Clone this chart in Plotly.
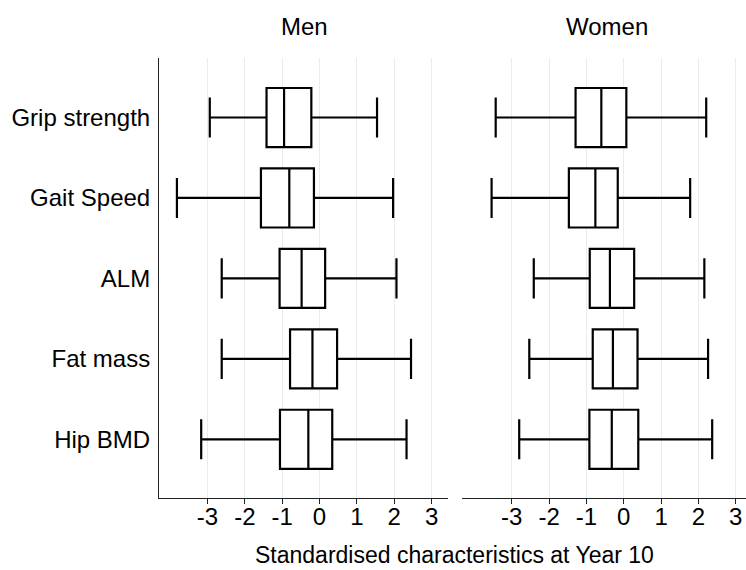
import plotly.graph_objects as go

# Characteristics (top to bottom)
measures = ["Grip strength", "Gait Speed", "ALM", "Fat mass", "Hip BMD"]

# Men: box summaries of standardised values
men_low = [-2.94, -3.82, -2.62, -2.62, -3.17]
men_q1 = [-1.42, -1.57, -1.07, -0.79, -1.06]
men_med = [-0.95, -0.81, -0.48, -0.19, -0.30]
men_q3 = [-0.22, -0.15, 0.15, 0.47, 0.34]
men_high = [1.54, 1.97, 2.06, 2.45, 2.33]

# Women: box summaries of standardised values
women_low = [-3.43, -3.54, -2.41, -2.53, -2.80]
women_q1 = [-1.29, -1.47, -0.91, -0.83, -0.92]
women_med = [-0.60, -0.76, -0.37, -0.29, -0.32]
women_q3 = [0.07, -0.16, 0.28, 0.37, 0.39]
women_high = [2.21, 1.78, 2.16, 2.26, 2.37]

tick_vals = [-3, -2, -1, 0, 1, 2, 3]
tick_text = ["-3", "-2", "-1", "0", "1", "2", "3"]
panel_titles = ["Men", "Women"]
x_title = "Standardised characteristics at Year 10"

FONT = "Liberation Sans, Arial, sans-serif"
FS = 24

fig = go.Figure()


def add_panel(low, q1, med, q3, high, xaxis):
    fig.add_trace(go.Box(
        y=measures, q1=q1, median=med, q3=q3,
        lowerfence=low, upperfence=high,
        orientation="h", boxpoints=False,
        width=0.734, whiskerwidth=0.68,
        line=dict(color="black", width=2.2),
        fillcolor="white",
        xaxis=xaxis, yaxis="y",
        hoverinfo="skip", showlegend=False,
    ))


add_panel(men_low, men_q1, men_med, men_q3, men_high, "x")
add_panel(women_low, women_q1, women_med, women_q3, women_high, "x2")

xcommon = dict(
    tickmode="array", tickvals=tick_vals, ticktext=tick_text,
    ticks="outside", ticklen=5, tickcolor="#222", tickwidth=1,
    showline=True, linecolor="#222", linewidth=1,
    showgrid=True, gridcolor="#e6ecef", gridwidth=1,
    zeroline=False, tickfont=dict(family=FONT, size=FS, color="black"),
    ticklabelstandoff=-8,
    fixedrange=True,
)

fig.update_layout(
    width=746, height=570,
    margin=dict(l=159, r=0, t=58, b=72),
    paper_bgcolor="white", plot_bgcolor="white",
    font=dict(family=FONT, size=FS, color="black"),
    xaxis=dict(domain=[0, 0.4923], range=[-4.3, 3.44], anchor="y", **xcommon),
    xaxis2=dict(domain=[0.517, 1], range=[-4.32, 3.276], anchor="y", **xcommon),
    yaxis=dict(
        categoryorder="array", categoryarray=measures,
        range=[4.73, -0.74], showline=True, linecolor="#222", linewidth=1,
        showgrid=False, zeroline=False, ticks="", ticklabelstandoff=3,
        tickfont=dict(family=FONT, size=FS, color="black"),
        anchor="x", fixedrange=True,
    ),
    boxgap=0, boxgroupgap=0,
)

for title, xc in zip(panel_titles, [0.248, 0.763]):
    fig.add_annotation(text=title, x=xc, y=1.0705, xref="paper", yref="paper",
                       xanchor="center", yanchor="middle", showarrow=False,
                       font=dict(family=FONT, size=FS, color="black"))

fig.add_annotation(text=x_title, x=0.504, y=-0.1295, xref="paper", yref="paper",
                   xanchor="center", yanchor="middle", showarrow=False,
                   font=dict(family=FONT, size=23, color="black"))

fig.write_html("out.html")
